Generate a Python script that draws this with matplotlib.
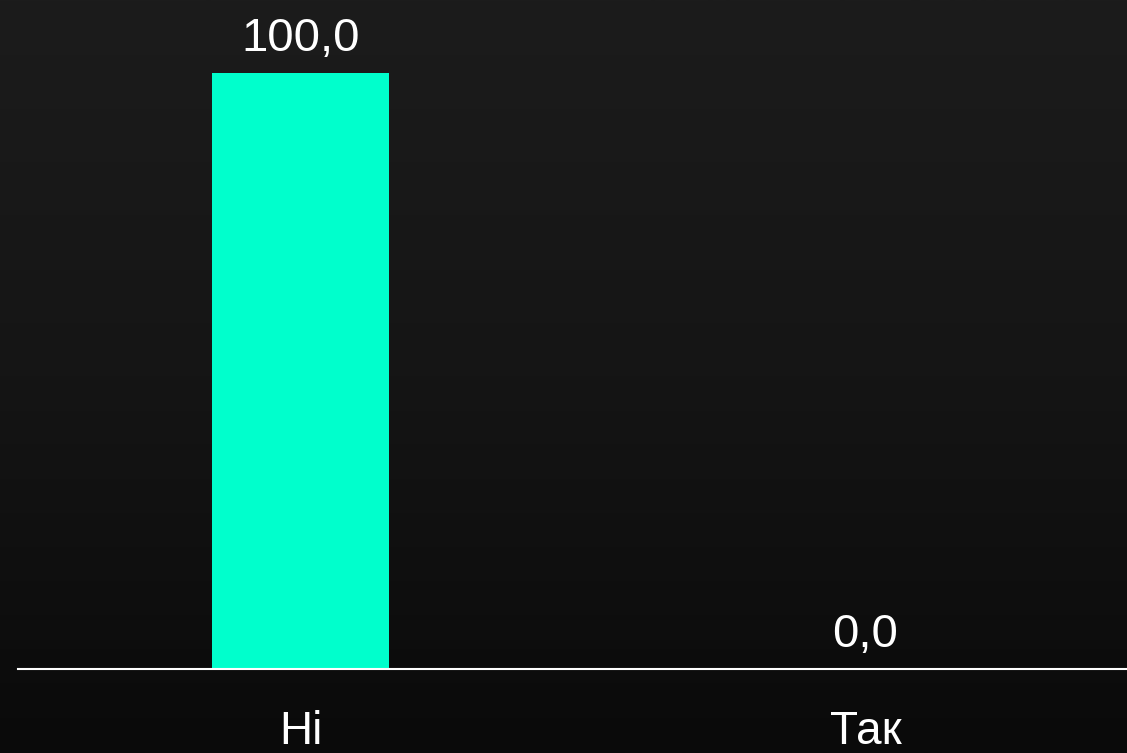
import matplotlib
matplotlib.use("Agg")
import matplotlib.pyplot as plt
import numpy as np
from matplotlib.colors import LinearSegmentedColormap

categories = ["Ні", "Так"]
values = [100.0, 0.0]
value_labels = ["100,0", "0,0"]

plt.rcParams['font.family'] = ['Liberation Sans', 'DejaVu Sans']

W, H = 1127, 753
fig = plt.figure(figsize=(W / 100, H / 100), dpi=100)

# background gradient
bg = fig.add_axes([0, 0, 1, 1], zorder=0)
cmap = LinearSegmentedColormap.from_list("bg", ["#1c1c1c", "#151515", "#0a0a0a"])
grad = np.linspace(0, 1, 256).reshape(-1, 1)
bg.imshow(grad, aspect="auto", cmap=cmap, extent=[0, 1, 0, 1], origin="upper")
bg.set_axis_off()

left_px, right_px = 18, 1127
bottom_px, top_px = 669, 73
ax = fig.add_axes([left_px / W, (H - bottom_px) / H,
                   (right_px - left_px) / W, (bottom_px - top_px) / H], zorder=1)
ax.patch.set_alpha(0)

x = np.arange(len(categories))
ax.bar(x, values, width=0.313, color="#00FFCC", zorder=2)

ax.set_xlim(-0.5, -0.5 + (right_px - left_px) / 565)
ax.set_ylim(0, 100)

for s in ["top", "left", "right"]:
    ax.spines[s].set_visible(False)
ax.spines["bottom"].set_color("white")
ax.spines["bottom"].set_linewidth(1.5)
ax.spines["bottom"].set_zorder(3)
ax.set_yticks([])
ax.set_xticks([])

for xi, v, lab in zip(x, values, value_labels):
    ax.annotate(lab, (xi, v), xytext=(0, 15.5), textcoords="offset points",
                ha="center", va="baseline", color="white", fontsize=34,
                annotation_clip=False)

for xi, c in zip(x, categories):
    ax.annotate(c, (xi, 0), xycoords=("data", "axes fraction"),
                xytext=(0, -54), textcoords="offset points",
                ha="center", va="baseline", color="white", fontsize=33,
                annotation_clip=False)

fig.savefig("out.png", dpi=100)
